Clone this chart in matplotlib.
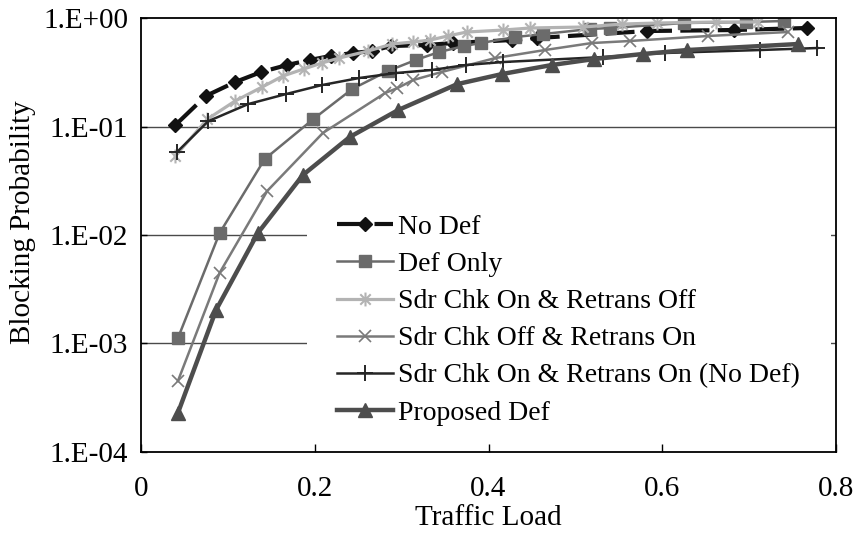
import matplotlib
matplotlib.use("Agg")
import matplotlib.pyplot as plt
from matplotlib.path import Path

plt.rcParams["font.family"] = ["Liberation Serif", "DejaVu Serif"]
plt.rcParams["font.size"] = 21

# ---- data ----
no_def_x = [0.039, 0.074, 0.108, 0.138, 0.168, 0.194, 0.218, 0.244, 0.266, 0.287,
            0.329, 0.359, 0.427, 0.456, 0.583, 0.683, 0.767]
no_def_y = [0.103, 0.191, 0.257, 0.318, 0.369, 0.410, 0.447, 0.476, 0.496, 0.552,
            0.564, 0.588, 0.627, 0.654, 0.759, 0.775, 0.809]

def_only_x = [0.042, 0.090, 0.142, 0.198, 0.243, 0.284, 0.316, 0.343, 0.372, 0.391,
              0.431, 0.463, 0.517, 0.540, 0.625, 0.697, 0.740]
def_only_y = [0.00112, 0.0104, 0.0501, 0.117, 0.222, 0.325, 0.410, 0.486, 0.552, 0.588,
              0.668, 0.712, 0.792, 0.809, 0.899, 0.919, 0.938]

on_off_x = [0.039, 0.076, 0.108, 0.139, 0.163, 0.187, 0.208, 0.228, 0.261, 0.289, 0.313,
            0.333, 0.353, 0.375, 0.417, 0.448, 0.509, 0.554, 0.594, 0.662, 0.710]
on_off_y = [0.0535, 0.117, 0.172, 0.231, 0.292, 0.339, 0.385, 0.428, 0.496, 0.576, 0.601,
            0.627, 0.683, 0.743, 0.775, 0.809, 0.826, 0.880, 0.899, 0.919, 0.919]

off_on_x = [0.042, 0.090, 0.145, 0.209, 0.281, 0.295, 0.313, 0.346, 0.408, 0.465,
            0.519, 0.563, 0.653, 0.745]
off_on_y = [0.000451, 0.00447, 0.0255, 0.0871, 0.204, 0.226, 0.268, 0.318, 0.428, 0.507,
            0.588, 0.614, 0.683, 0.743]

on_on_x = [0.041, 0.077, 0.123, 0.167, 0.208, 0.251, 0.293, 0.335, 0.374, 0.417,
           0.532, 0.603, 0.713, 0.779]
on_on_y = [0.0582, 0.112, 0.161, 0.1995, 0.241, 0.280, 0.311, 0.332, 0.369, 0.393,
           0.437, 0.476, 0.507, 0.529]

prop_x = [0.042, 0.086, 0.134, 0.186, 0.240, 0.296, 0.364, 0.416, 0.473, 0.522,
          0.578, 0.629, 0.757]
prop_y = [0.000229, 0.00204, 0.0104, 0.0357, 0.080, 0.142, 0.246, 0.305, 0.369, 0.419,
          0.466, 0.507, 0.576]

x_ticks = [0, 0.2, 0.4, 0.6, 0.8]
x_tick_labels = ["0", "0.2", "0.4", "0.6", "0.8"]
y_ticks = [1e-4, 1e-3, 1e-2, 1e-1, 1]
y_tick_labels = ["1.E-04", "1.E-03", "1.E-02", "1.E-01", "1.E+00"]

# excel-style asterisk: vertical bar plus an X
star = Path([(0, -1), (0, 1), (-0.75, -0.75), (0.75, 0.75), (-0.75, 0.75), (0.75, -0.75)],
            [Path.MOVETO, Path.LINETO] * 3)

fig = plt.figure(figsize=(8.58, 5.33), dpi=100)
ax = fig.add_axes([0.1649, 0.152, 0.809, 0.8142])

ax.plot(no_def_x, no_def_y, color="#111111", lw=3.0, dashes=(7, 2), marker="D", ms=7,
        label="No Def")
ax.plot(def_only_x, def_only_y, color="#6b6b6b", lw=1.8, marker="s", ms=8.5,
        label="Def Only")
ax.plot(on_off_x, on_off_y, color="#b3b3b3", lw=2.3, marker=star, ms=10, mew=1.5,
        label="Sdr Chk On & Retrans Off")
ax.plot(off_on_x, off_on_y, color="#7a7a7a", lw=1.8, marker="x", ms=8.5, mew=1.2,
        label="Sdr Chk Off & Retrans On")
ax.plot(on_on_x, on_on_y, color="#262626", lw=1.8, marker="+", ms=11, mew=1.4,
        label="Sdr Chk On & Retrans On (No Def)")
ax.plot(prop_x, prop_y, color="#4d4d4d", lw=3.2, marker="^", ms=10,
        label="Proposed Def")

ax.set_yscale("log")
ax.set_xlim(0, 0.8)
ax.set_ylim(1e-4, 1)
ax.set_xticks(x_ticks)
ax.set_xticklabels(x_tick_labels)
ax.set_yticks(y_ticks)
ax.set_yticklabels(y_tick_labels)
ax.minorticks_off()
ax.tick_params(axis="x", direction="in", length=6, width=1, pad=17)
ax.tick_params(axis="y", direction="in", length=4, width=1, pad=9.5)

for yv in y_ticks[1:-1]:
    ax.axhline(yv, color="#4a4a4a", lw=1.0, zorder=0.5)

for sp in ax.spines.values():
    sp.set_linewidth(1.3)
    sp.set_color("black")
    sp.set_zorder(10)
ax.xaxis.set_zorder(10)

ax.set_xlabel("Traffic Load")
ax.xaxis.set_label_coords(0.5, -0.152)
ax.xaxis.label.set_va("center")
ax.set_ylabel("Blocking Probability")
ax.yaxis.set_label_coords(-0.171, 0.53)
ax.yaxis.label.set_va("center")

leg = ax.legend(loc="upper left", bbox_to_anchor=(0.2378, 0.6175), borderaxespad=0,
                frameon=True, facecolor="white", edgecolor="none", framealpha=1,
                fancybox=False, borderpad=1.1, handlelength=2.0, handletextpad=0.2,
                labelspacing=0.42, fontsize=20)

fig.savefig("out.png", dpi=100, facecolor="white")
